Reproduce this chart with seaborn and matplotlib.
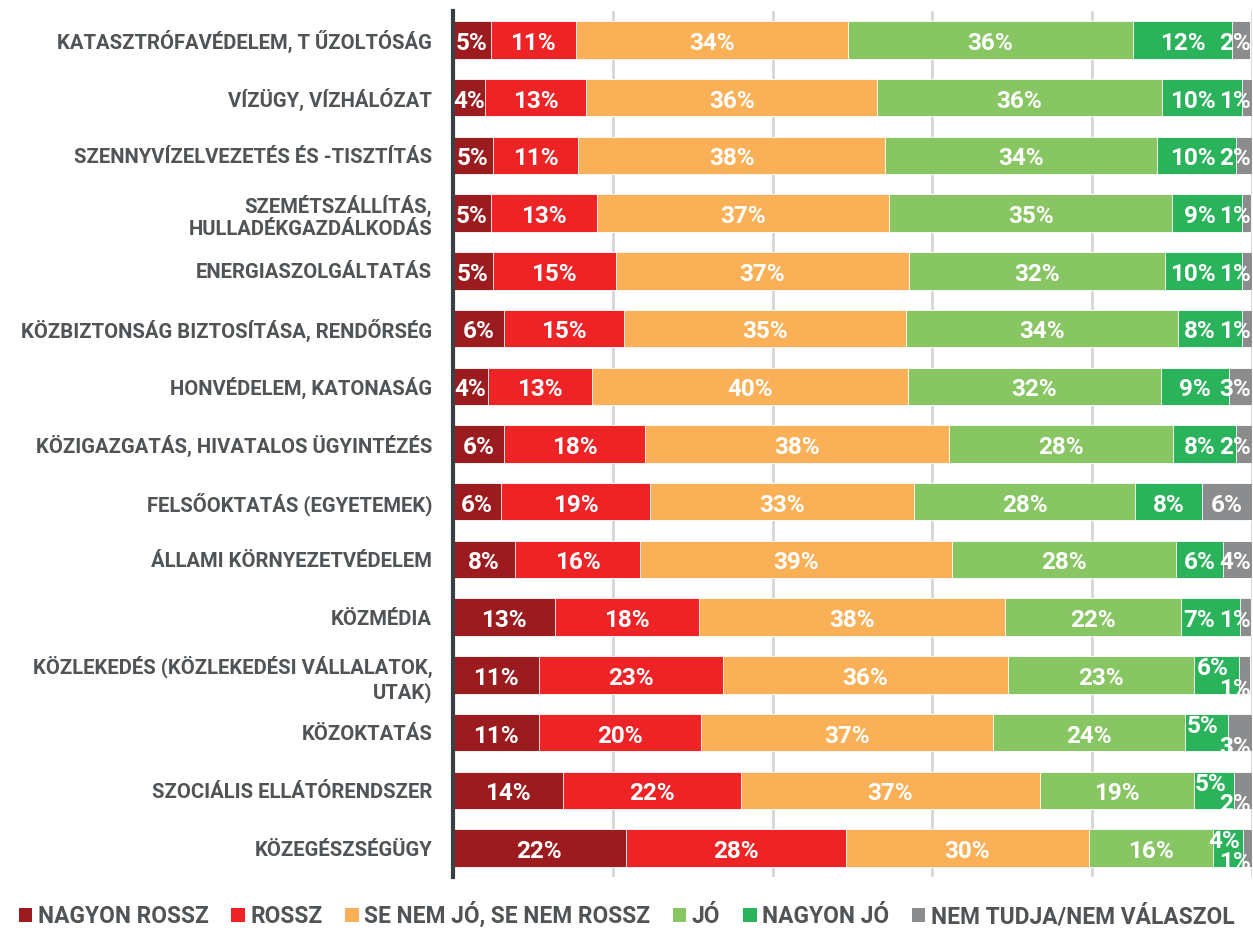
import matplotlib
matplotlib.use("Agg")
import matplotlib.pyplot as plt
import seaborn as sns
import numpy as np
import pandas as pd
from matplotlib.patches import Patch

categories = [
    "KATASZTRÓFAVÉDELEM, T ŰZOLTÓSÁG",
    "VÍZÜGY, VÍZHÁLÓZAT",
    "SZENNYVÍZELVEZETÉS ÉS -TISZTÍTÁS",
    "SZEMÉTSZÁLLÍTÁS,\nHULLADÉKGAZDÁLKODÁS",
    "ENERGIASZOLGÁLTATÁS",
    "KÖZBIZTONSÁG BIZTOSÍTÁSA, RENDŐRSÉG",
    "HONVÉDELEM, KATONASÁG",
    "KÖZIGAZGATÁS, HIVATALOS ÜGYINTÉZÉS",
    "FELSŐOKTATÁS (EGYETEMEK)",
    "ÁLLAMI KÖRNYEZETVÉDELEM",
    "KÖZMÉDIA",
    "KÖZLEKEDÉS (KÖZLEKEDÉSI VÁLLALATOK,\nUTAK)",
    "KÖZOKTATÁS",
    "SZOCIÁLIS ELLÁTÓRENDSZER",
    "KÖZEGÉSZSÉGÜGY",
]

series_names = ["NAGYON ROSSZ", "ROSSZ", "SE NEM JÓ, SE NEM ROSSZ",
                "JÓ", "NAGYON JÓ", "NEM TUDJA/NEM VÁLASZOL"]

nagyon_rossz = [4.7, 4.0, 5.0, 4.7, 5.0, 6.4, 4.4, 6.4, 6.0, 7.75, 12.75, 10.75, 10.75, 13.75, 21.6]
rossz        = [10.7, 12.7, 10.7, 13.3, 15.35, 15.0, 13.0, 17.65, 18.7, 15.65, 18.0, 23.0, 20.3, 22.3, 27.55]
se_nem       = [34.0, 36.35, 38.35, 36.6, 36.7, 35.35, 39.55, 38.05, 33.0, 39.0, 38.35, 35.7, 36.55, 37.4, 30.45]
jo           = [35.7, 35.65, 34.0, 35.4, 32.0, 34.0, 31.6, 28.0, 27.7, 28.05, 22.0, 23.3, 24.0, 19.3, 15.55]
nagyon_jo    = [12.45, 10.05, 9.95, 8.7, 9.7, 8.05, 8.6, 7.95, 8.3, 5.95, 7.4, 5.65, 5.35, 5.05, 3.7]
nem_tudja    = [2.25, 1.2, 1.95, 1.2, 1.2, 1.2, 2.95, 1.95, 6.25, 3.6, 1.4, 1.4, 3.05, 2.2, 1.2]

colors = ["#9B1B1F", "#EE2326", "#F9B057", "#88C663", "#2BB35B", "#8A8C8E"]
text_gray = "#505456"

sns.set_theme(style="white")
plt.rcParams["font.family"] = ["Roboto", "DejaVu Sans"]

fig = plt.figure(figsize=(12.53, 9.31), dpi=100)
ax = fig.add_axes([453 / 1253, 54 / 931, 799 / 1253, 866 / 931])

data = np.array([nagyon_rossz, rossz, se_nem, jo, nagyon_jo, nem_tudja])
cum = data.cumsum(axis=0)

for i in reversed(range(len(series_names))):
    df = pd.DataFrame({"cat": categories, "val": cum[i]})
    sns.barplot(data=df, x="val", y="cat", orient="h", color=colors[i],
                saturation=1, width=0.65, errorbar=None, edgecolor="white",
                linewidth=0.6, ax=ax, zorder=3)

ax.set_xlim(0, 100)
ax.set_ylim(14.5, -0.5)
ax.set_xticks([0, 20, 40, 60, 80, 100])
ax.set_xticklabels([])
ax.set_xlabel("")
ax.set_ylabel("")
ax.set_axisbelow(True)
ax.grid(axis="x", color="#d6d6d6", linewidth=2)
ax.grid(axis="y", visible=False)
for s in ["top", "right", "bottom"]:
    ax.spines[s].set_visible(False)
ax.spines["left"].set_color("#3a3f44")
ax.spines["left"].set_linewidth(3)
ax.spines["left"].set_zorder(6)
ax.tick_params(axis="both", length=0)
ax.tick_params(axis="y", pad=15)
for lab in ax.get_yticklabels():
    lab.set_fontsize(14.6)
    lab.set_fontweight("bold")
    lab.set_color(text_gray)
    lab.set_linespacing(1.25)
    lab.set_horizontalalignment("right")

fig.canvas.draw()
renderer = fig.canvas.get_renderer()
inv = ax.transData.inverted()

label_kw = dict(color="white", fontsize=17.5, fontweight="bold", zorder=7, va="center")
dy = 0.06
for j in range(len(categories)):
    stacked = data[4, j] < 5.8
    texts = []
    for i in range(len(series_names)):
        v = data[i, j]
        left = cum[i, j] - v
        x = left + v / 2
        y = j + dy
        ha = "center"
        if i == 5 and v < 4.5:
            ha = "right"
            x = 99.9
        if stacked and i == 4:
            y = j - 0.17 + dy
            x = x - 0.5
        if stacked and i == 5:
            y = j + 0.19 + dy
        t = ax.text(x, y, f"{v:.0f}%", ha=ha, **label_kw)
        texts.append(t)
    if not stacked:
        b4 = texts[4].get_window_extent(renderer)
        b5 = texts[5].get_window_extent(renderer)
        if b4.x1 > b5.x0 - 4:
            new_right = inv.transform((b5.x0 - 4, 0))[0]
            texts[4].set_ha("right")
            texts[4].set_x(new_right)

handles = [Patch(facecolor=c, edgecolor="none") for c in colors]
fig.legend(handles, series_names, loc="center", bbox_to_anchor=(0.5, 1 - 915 / 931),
           ncol=6, frameon=False, handlelength=0.6, handleheight=0.6,
           handletextpad=0.23, columnspacing=1.0, borderaxespad=0, borderpad=0,
           prop=dict(size=16.4, weight="bold"), labelcolor=text_gray)

fig.savefig("out.png", dpi=100)
